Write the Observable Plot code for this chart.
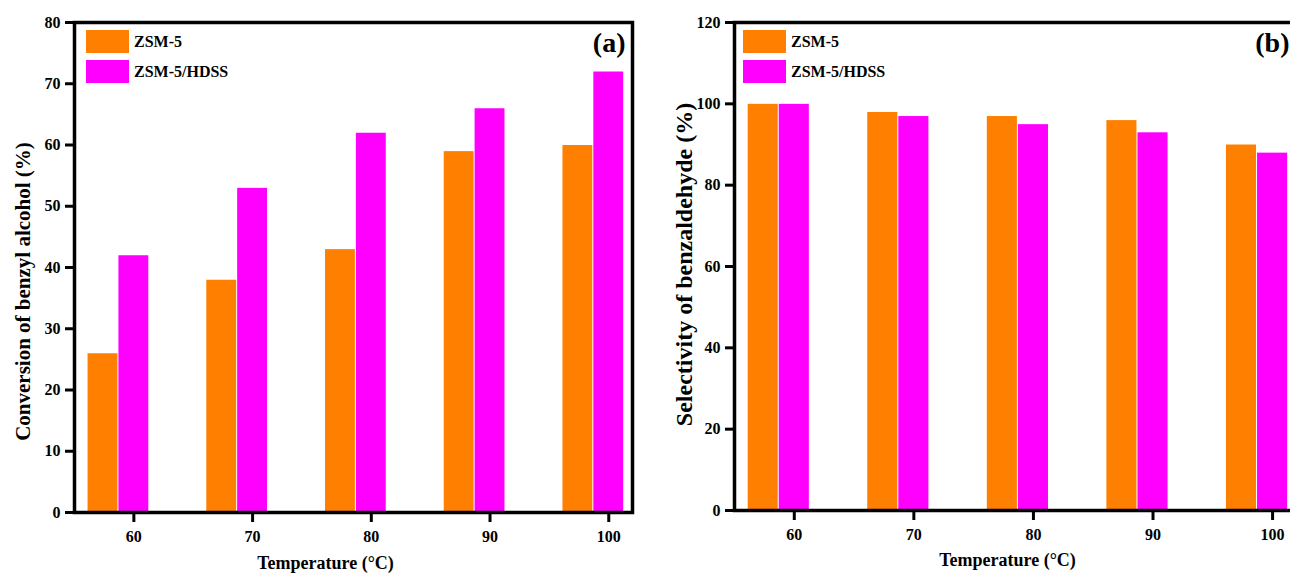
<!DOCTYPE html>
<html><head><meta charset="utf-8">
<script src="https://cdn.jsdelivr.net/npm/d3@7"></script>
<script src="https://cdn.jsdelivr.net/npm/@observablehq/plot@0.6"></script>
<style>
html,body{margin:0;padding:0;background:#fff;overflow:hidden;width:1290px;height:575px}
#wrap{position:relative;width:1290px;height:575px;overflow:hidden;background:#fff}
.panel{position:absolute;top:0;height:575px}
.panel svg{max-width:none !important}
.lg{position:absolute;font-family:"Liberation Serif","Times New Roman",serif;font-weight:bold;font-size:16px;color:#000;white-space:nowrap}
.sw{position:absolute}
</style></head><body><div id="wrap"></div>
<script>
const temperatures = [60, 70, 80, 90, 100];
const series = ["ZSM-5", "ZSM-5/HDSS"];
const colors = ["#FF8000", "#FF00FF"];
const conversionZSM5 = [26, 38, 43, 59, 60];
const conversionHDSS = [42, 53, 62, 66, 72];
const selectivityZSM5 = [100, 98, 97, 96, 90];
const selectivityHDSS = [100, 97, 95, 93, 88];
const conversionTicks = [0, 10, 20, 30, 40, 50, 60, 70, 80];
const selectivityTicks = [0, 20, 40, 60, 80, 100, 120];
const xLabel = "Temperature (\u00B0C)";
const conversionLabel = "Conversion of benzyl alcohol (%)";
const selectivityLabel = "Selectivity of benzaldehyde (%)";

// bar placement relative to the temperature (in x units): series 0 left, series 1 centred
const barSpan = [[-3.9, -1.3], [-1.3, 1.3]];
const FONT = "'Liberation Serif','Times New Roman',serif";

function rowsOf(a, b) {
  return temperatures.flatMap((t, i) => [
    {t, s: 0, v: a[i]},
    {t, s: 1, v: b[i]}
  ]);
}

function panel(o) {
  const rows = rowsOf(o.a, o.b);
  return Plot.plot({
    width: o.width, height: 575,
    marginLeft: o.marginLeft, marginRight: o.marginRight, marginTop: 22, marginBottom: o.marginBottom,
    x: {domain: [55, 102]},
    y: {domain: o.yDomain},
    color: {domain: [0, 1], range: colors, type: "ordinal"},
    style: {fontFamily: FONT, fontWeight: "bold", fontSize: "16px", background: "transparent", overflow: "visible", color: "black", maxWidth: "none"},
    marks: [
      Plot.rect(rows, {
        x1: d => d.t + barSpan[d.s][0], x2: d => d.t + barSpan[d.s][1],
        y1: () => 0, y2: "v", fill: "s", inset: 0.5
      }),
      Plot.axisY({ticks: o.yTicks, tickSize: 9, tickPadding: 5, strokeWidth: 3, tickFormat: d => String(d), label: null, fontSize: 16}),
      Plot.axisX({ticks: temperatures, tickSize: 10, tickPadding: 8, strokeWidth: 3, tickFormat: d => String(d), label: null, fontSize: 16}),
      Plot.frame({stroke: "black", strokeWidth: 3.5}),
      Plot.text([o.letter], {text: d => d, frameAnchor: "top-right", dx: -7, dy: 21, fontSize: 28, textAnchor: "end", lineAnchor: "middle"}),
      Plot.text([xLabel], {text: d => d, frameAnchor: "bottom", dx: o.xdx, dy: o.xdy, fontSize: 18, textAnchor: "middle", lineAnchor: "middle"}),
      Plot.text([o.yLabel], {text: d => d, frameAnchor: "left", rotate: -90, dx: o.ydx, dy: o.ydy, fontSize: o.ySize, textAnchor: "middle", lineAnchor: "middle"})
    ]
  });
}

function legend(parent, left, top) {
  series.forEach((name, i) => {
    const sw = document.createElement("div");
    sw.className = "sw";
    sw.style.left = left + "px";
    sw.style.top = (top + i * 30) + "px";
    sw.style.width = "43px";
    sw.style.height = "23px";
    sw.style.background = colors[i];
    parent.appendChild(sw);
    const tx = document.createElement("div");
    tx.className = "lg";
    tx.textContent = name;
    tx.style.left = (left + 48) + "px";
    tx.style.top = (top + i * 30 + 2) + "px";
    tx.style.lineHeight = "20px";
    parent.appendChild(tx);
  });
}

const wrap = document.getElementById("wrap");

const pa = document.createElement("div");
pa.className = "panel"; pa.style.left = "0px"; pa.style.width = "660px";
pa.appendChild(panel({
  a: conversionZSM5, b: conversionHDSS, yDomain: [0, 80], yTicks: conversionTicks,
  width: 660, marginLeft: 74, marginRight: 28, marginBottom: 63,
  letter: "(a)", yLabel: conversionLabel, ySize: 21, ydx: -51, ydy: 24, xdx: -28, xdy: 51
}));
wrap.appendChild(pa);
legend(pa, 86, 30);

const pb = document.createElement("div");
pb.className = "panel"; pb.style.left = "660px"; pb.style.width = "640px";
pb.appendChild(panel({
  a: selectivityZSM5, b: selectivityHDSS, yDomain: [0, 120], yTicks: selectivityTicks,
  width: 640, marginLeft: 74, marginRight: 4, marginBottom: 65,
  letter: "(b)", yLabel: selectivityLabel, ySize: 24, ydx: -50, ydy: -2, xdx: -8, xdy: 50
}));
wrap.appendChild(pb);
legend(pb, 83, 30);
</script>
</body></html>
